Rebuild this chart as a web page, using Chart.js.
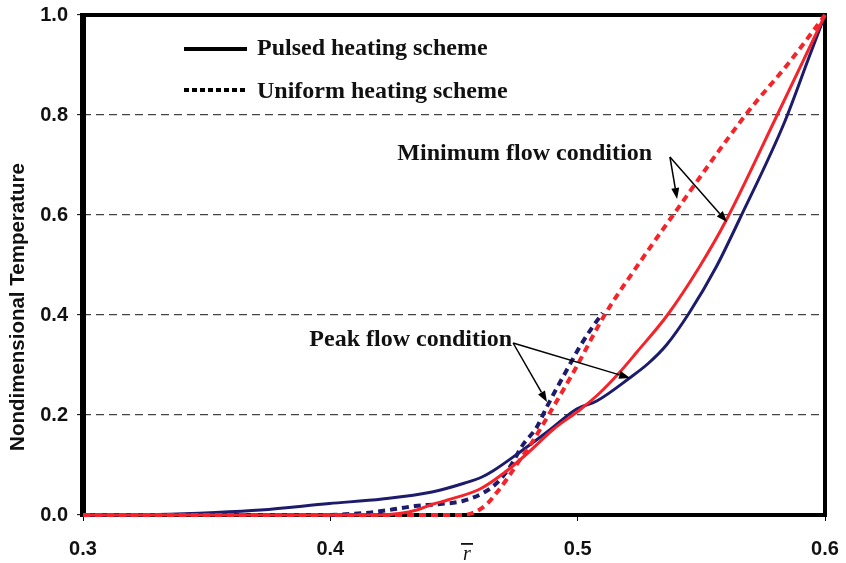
<!DOCTYPE html>
<html>
<head>
<meta charset="utf-8">
<script src="https://cdn.jsdelivr.net/npm/chart.js@4.4.1/dist/chart.umd.min.js"></script>
<style>
  html, body { margin: 0; padding: 0; background: #fff; }
  #wrap { width: 846px; height: 563px; }
</style>
</head>
<body>
<div id="wrap"><canvas id="chart"></canvas></div>
<script>
// r-bar positions and nondimensional temperature
const pulsedPeakX = [0.30, 0.33, 0.3536, 0.3718, 0.3996, 0.421, 0.4411, 0.4544, 0.4613, 0.4657, 0.4778, 0.4887, 0.4996, 0.5077, 0.521, 0.5285, 0.5359, 0.5452, 0.556, 0.5653, 0.5835, 0.5935, 0.60];
const pulsedPeakY = [0, 0.001, 0.005, 0.01, 0.023, 0.032, 0.046, 0.064, 0.076, 0.088, 0.13, 0.17, 0.212, 0.228, 0.274, 0.303, 0.34, 0.405, 0.496, 0.59, 0.784, 0.915, 1.0];

const pulsedMinX = [0.30, 0.42, 0.4278, 0.435, 0.4411, 0.4474, 0.4605, 0.4702, 0.4794, 0.4903, 0.5008, 0.5089, 0.5169, 0.5238, 0.5363, 0.5492, 0.5601, 0.5802, 0.5923, 0.60];
const pulsedMinY = [0, 0, 0.003, 0.01, 0.021, 0.03, 0.052, 0.084, 0.122, 0.172, 0.21, 0.244, 0.285, 0.325, 0.40, 0.496, 0.59, 0.795, 0.92, 1.0];

const uniformPeakX = [0.40, 0.4141, 0.4238, 0.4343, 0.4444, 0.4536, 0.4617, 0.4673, 0.4726, 0.4778, 0.4835, 0.4875, 0.4956, 0.5008, 0.506, 0.5101];
const uniformPeakY = [0, 0.004, 0.01, 0.018, 0.022, 0.028, 0.044, 0.064, 0.096, 0.14, 0.176, 0.216, 0.29, 0.336, 0.376, 0.404];

const uniformMinX = [0.30, 0.4536, 0.4585, 0.4633, 0.4673, 0.4714, 0.4766, 0.4819, 0.4887, 0.4988, 0.5109, 0.5252, 0.5386, 0.5685, 0.5855, 0.60];
const uniformMinY = [0, 0, 0.006, 0.022, 0.045, 0.072, 0.11, 0.148, 0.204, 0.29, 0.40, 0.506, 0.60, 0.804, 0.905, 1.0];

const xTicks = [0.3, 0.4, 0.5, 0.6];
const yTicks = [0.0, 0.2, 0.4, 0.6, 0.8, 1.0];

// annotation anchors in data units: [start, tip1, tip2]
const minFlowArrows = [[0.5373, 0.716], [0.5402, 0.632], [0.5604, 0.586]];
const peakFlowArrows = [[0.4739, 0.344], [0.4876, 0.226], [0.5212, 0.274]];

const NAVY = '#1d1b6b';
const RED = '#f4242a';
const LABEL_FONT = 'bold 24px "Liberation Serif", "Times New Roman", serif';

const pts = (xs, ys) => xs.map((x, i) => ({ x: x, y: ys[i] }));

function arrow(ctx, x1, y1, x2, y2) {
    const ang = Math.atan2(y2 - y1, x2 - x1);
    const len = 11, half = 4;
    const bx = x2 - len * Math.cos(ang), by = y2 - len * Math.sin(ang);
    ctx.beginPath();
    ctx.moveTo(x1, y1);
    ctx.lineTo(bx, by);
    ctx.stroke();
    ctx.beginPath();
    ctx.moveTo(x2, y2);
    ctx.lineTo(bx + half * Math.sin(ang), by - half * Math.cos(ang));
    ctx.lineTo(bx - half * Math.sin(ang), by + half * Math.cos(ang));
    ctx.closePath();
    ctx.fill();
}

const overlay = {
    id: 'overlay',
    beforeDatasetsDraw(chart) {
        const { ctx, chartArea: a } = chart;
        ctx.save();
        ctx.strokeStyle = '#000';
        ctx.fillStyle = '#000';
        ctx.lineWidth = 4;
        ctx.strokeRect(a.left, a.top, a.right - a.left, a.bottom - a.top);
        ctx.fillRect(a.left - 3, a.top - 2, 6, a.bottom - a.top + 4);
        ctx.restore();
    },
    afterDatasetsDraw(chart) {
        const { ctx } = chart;
        const xs = chart.scales.x, ys = chart.scales.y;
        const px = v => xs.getPixelForValue(v), py = v => ys.getPixelForValue(v);
        ctx.save();

        // legend
        ctx.strokeStyle = '#000';
        ctx.lineWidth = 4;
        ctx.beginPath(); ctx.moveTo(184, 49); ctx.lineTo(247, 49); ctx.stroke();
        ctx.setLineDash([5, 3]);
        ctx.beginPath(); ctx.moveTo(184, 90); ctx.lineTo(247, 90); ctx.stroke();
        ctx.setLineDash([]);
        ctx.fillStyle = '#111';
        ctx.font = LABEL_FONT;
        ctx.textAlign = 'left';
        ctx.textBaseline = 'alphabetic';
        ctx.fillText('Pulsed heating scheme', 257, 55);
        ctx.fillText('Uniform heating scheme', 257, 98);

        // annotations
        ctx.textAlign = 'right';
        ctx.fillText('Minimum flow condition', 652, 160);
        ctx.fillText('Peak flow condition', 512, 346);
        ctx.lineWidth = 1.5;
        ctx.fillStyle = '#000';
        [minFlowArrows, peakFlowArrows].forEach(set => {
            const s = set[0];
            set.slice(1).forEach(t => arrow(ctx, px(s[0]), py(s[1]), px(t[0]), py(t[1])));
        });

        // axis titles
        ctx.fillStyle = '#111';
        ctx.textAlign = 'center';
        ctx.font = 'italic 20px "Liberation Serif", "Times New Roman", serif';
        ctx.fillText('r', 467, 560);
        ctx.fillRect(461, 543, 12, 1.8);

        ctx.translate(24, 307);
        ctx.rotate(-Math.PI / 2);
        ctx.font = 'bold 20.5px "Liberation Sans", Arial, sans-serif';
        ctx.fillText('Nondimensional Temperature', 0, 0);
        ctx.restore();
    }
};

const ctx = document.getElementById('chart').getContext('2d');
new Chart(ctx, {
    type: 'line',
    data: {
        datasets: [
            { label: 'Uniform heating scheme (minimum flow)', data: pts(uniformMinX, uniformMinY), borderColor: RED, borderWidth: 4, borderDash: [7, 5], order: 0 },
            { label: 'Pulsed heating scheme (minimum flow)', data: pts(pulsedMinX, pulsedMinY), borderColor: RED, borderWidth: 3, order: 1 },
            { label: 'Uniform heating scheme (peak flow)', data: pts(uniformPeakX, uniformPeakY), borderColor: NAVY, borderWidth: 4, borderDash: [7, 5], order: 2 },
            { label: 'Pulsed heating scheme (peak flow)', data: pts(pulsedPeakX, pulsedPeakY), borderColor: NAVY, borderWidth: 3, order: 3 }
        ]
    },
    options: {
        responsive: true,
        maintainAspectRatio: false,
        animation: false,
        layout: { padding: { top: 15, right: 21, left: 0, bottom: 0 } },
        datasets: {
            line: { pointRadius: 0, fill: false, cubicInterpolationMode: 'monotone', clip: false }
        },
        plugins: {
            legend: { display: false },
            tooltip: { enabled: false }
        },
        scales: {
            x: {
                type: 'linear',
                min: 0.3,
                max: 0.6,
                afterFit: s => { s.height = 48; s.paddingLeft = 0; s.paddingRight = 0; },
                afterBuildTicks: s => { s.ticks = xTicks.map(v => ({ value: v })); },
                grid: { drawOnChartArea: false, drawTicks: true, tickLength: 6, tickColor: '#000', tickWidth: 1 },
                border: { display: false },
                ticks: {
                    color: '#111',
                    padding: 16,
                    maxRotation: 0,
                    font: { family: '"Liberation Sans", Arial, sans-serif', size: 20, weight: 'bold' },
                    callback: v => v.toFixed(1)
                }
            },
            y: {
                min: 0,
                max: 1,
                afterFit: s => { s.width = 83; s.paddingTop = 0; s.paddingBottom = 0; },
                afterBuildTicks: s => { s.ticks = yTicks.map(v => ({ value: v })); },
                grid: {
                    drawOnChartArea: true,
                    color: c => (c.tick && c.tick.value > 0.01 && c.tick.value < 0.99) ? '#444' : 'rgba(0,0,0,0)',
                    lineWidth: 1.3,
                    tickLength: 6,
                    tickColor: '#000',
                    tickWidth: 1
                },
                border: { display: false, dash: [8, 5] },
                ticks: {
                    color: '#111',
                    padding: 9,
                    font: { family: '"Liberation Sans", Arial, sans-serif', size: 20, weight: 'bold' },
                    callback: v => v.toFixed(1)
                }
            }
        }
    },
    plugins: [overlay]
});
</script>
</body>
</html>
